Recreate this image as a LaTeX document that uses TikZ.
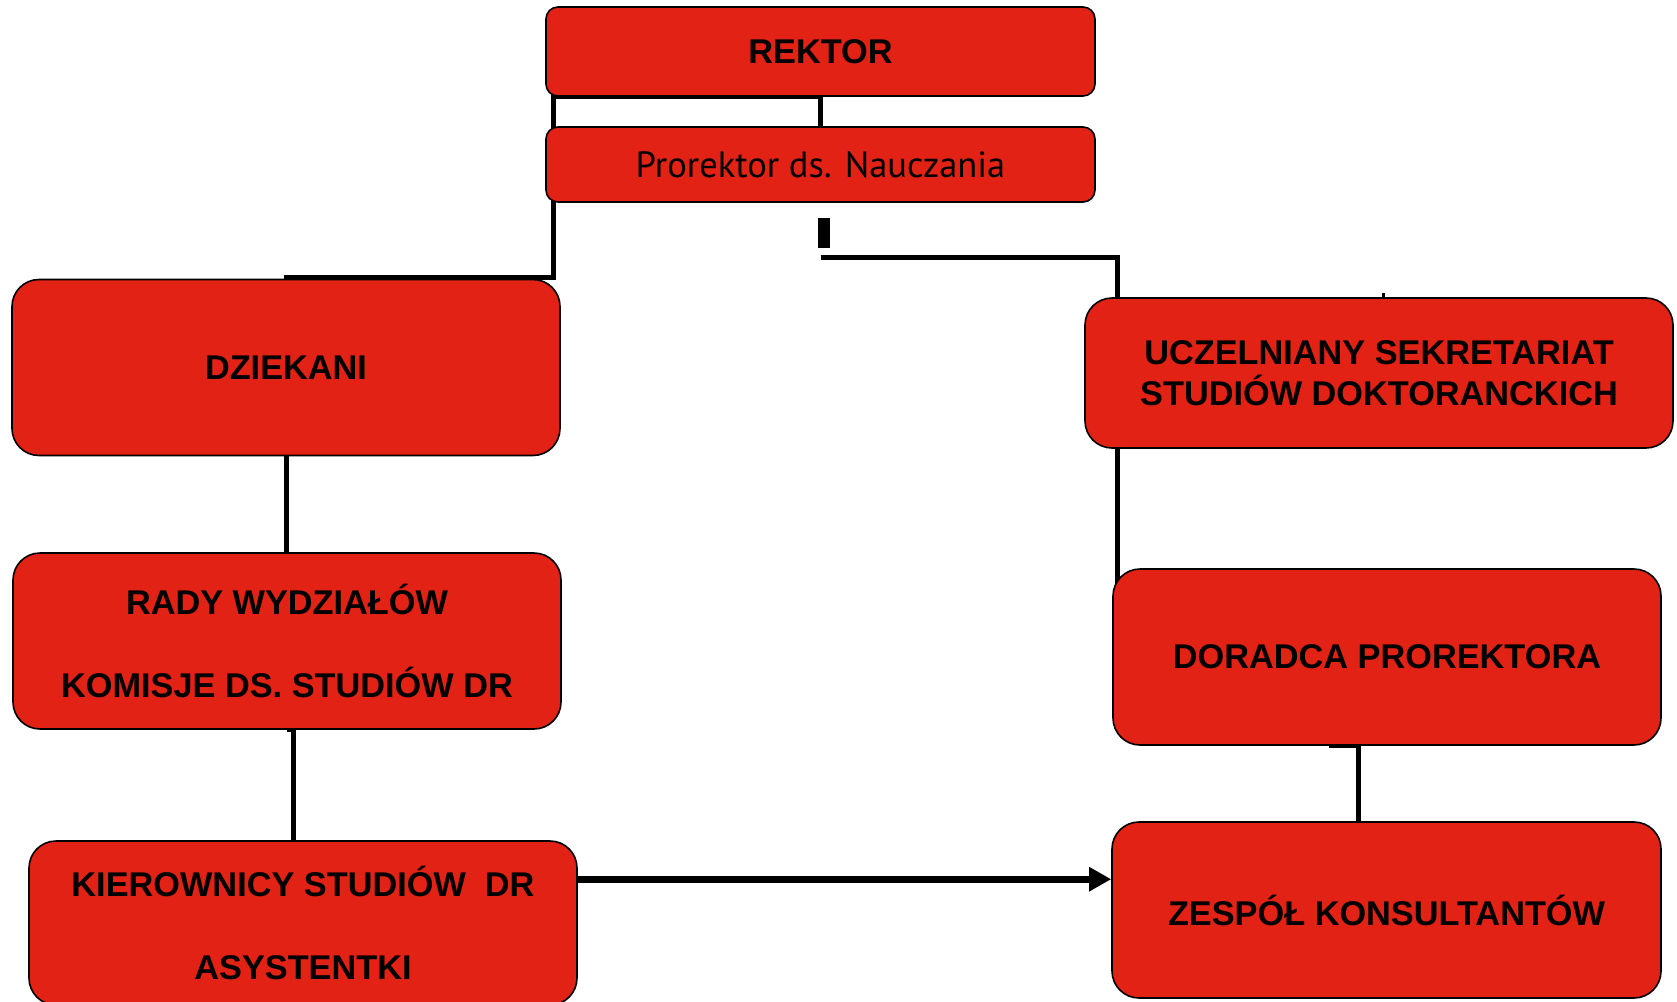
\documentclass[tikz,border=0pt]{standalone}
\usepackage{fontspec}
\setmainfont{Liberation Sans}
\newfontfamily\prfont{PT Sans}
\usetikzlibrary{arrows.meta, positioning, calc, backgrounds}
\definecolor{orgred}{HTML}{E22214}

\begin{document}
\begin{tikzpicture}[
  x=1pt, y=-1pt,
  unit/.style={draw=black, line width=1.6pt, fill=orgred, rounded corners=27pt, minimum width=548pt, minimum height=176pt, align=center, font=\fontsize{34.3}{41}\selectfont\bfseries, inner sep=0pt},
  headbox/.style={unit, rounded corners=12pt, minimum width=549pt},
  conn/.style={line width=5pt, black},
  flow/.style={-{Triangle[length=22pt, width=23pt]}, line width=7pt, black}
]
\useasboundingbox (0,0) rectangle (1677,1001);

\node[headbox, minimum height=89pt] (rektor) at (820.5,51.5) {REKTOR};
\node[headbox, minimum height=75pt, font=\prfont\fontsize{36.5}{44}\selectfont] (prorektor) at (820.5,164.5) {Prorektor ds. Nauczania};
\node[unit] (dziekani) at (286,367.5) {DZIEKANI};
\node[unit] (rady) at (287,641) {RADY WYDZIAŁÓW\\[1.2em]KOMISJE DS. STUDIÓW DR};
\node[unit, minimum height=164pt] (kierownicy) at (303,923) {KIEROWNICY STUDIÓW\ \ DR\\[1.2em]ASYSTENTKI};
\node[unit, minimum width=588pt, minimum height=150pt] (sekretariat) at (1379,373) {UCZELNIANY SEKRETARIAT\\STUDIÓW DOKTORANCKICH};
\node[unit] (doradca) at (1387,657) {DORADCA PROREKTORA};
\node[unit, minimum width=549pt] (zespol) at (1386.5,910) {ZESPÓŁ KONSULTANTÓW};

% connectors behind the boxes
\begin{scope}[on background layer]
\coordinate (kneeL) at (553,277);
\draw[conn] (rektor.south) -- (prorektor.north);
\draw[conn] (rektor.south) -| (kneeL) -| (dziekani.north);
\draw[conn] (dziekani.south) -- (dziekani.south |- rady.north);
\draw[conn] (rady.south) -- ++(6,0) coordinate (rk) -- (rk |- kierownicy.north);
\draw[conn] ($(prorektor.south)+(0,55)$) -| ($(doradca.north west)+(5,30)$);
\draw[conn] ($(doradca.south)+(-58,0)$) -| ($(zespol.north)+(-28.5,0)$);
\draw[conn, line width=3pt] ($(sekretariat.north)+(4,0)$) -- ++(0,-4);
\end{scope}

\fill ($(prorektor.south)+(-3,15)$) rectangle ++(12,30);
\draw[flow] ($(kierownicy.north east)+(0,39)$) coordinate (kArr) -- (kArr -| zespol.west);
\end{tikzpicture}
\end{document}
